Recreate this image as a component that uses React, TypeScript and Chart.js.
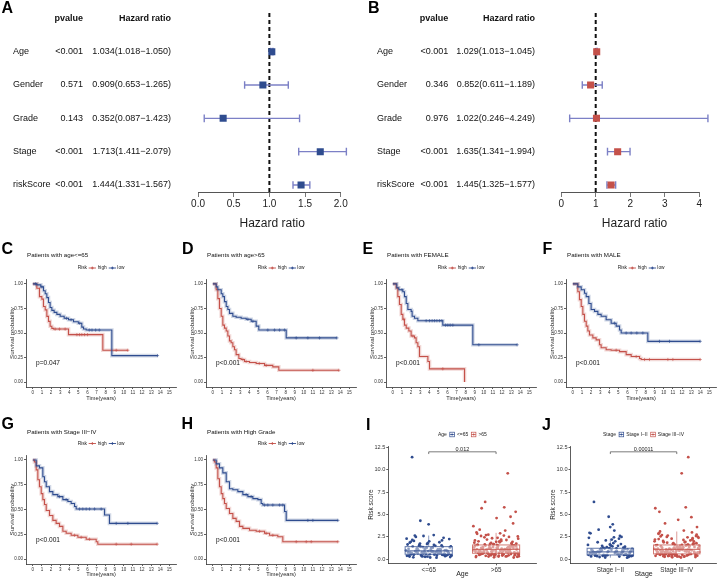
import React, { useEffect, useRef } from "react";
import { Chart, registerables } from "chart.js";

Chart.register(...registerables);

const FONT = '"Liberation Sans", Arial, Helvetica, sans-serif';
const INK = "#1e1e1e";
const AXIS = "#333333";
const BLUE = "#2F4C8F";
const RED = "#C4514A";
const LAVENDER = "#7C80C6";
const BLUE_BAND = "rgba(47,76,143,0.22)";
const RED_BAND = "rgba(196,81,74,0.22)";

// ---------------- A / B : forest plots ----------------
const forestVars = ["Age", "Gender", "Grade", "Stage", "riskScore"];
const uniP = ["<0.001", "0.571", "0.143", "<0.001", "<0.001"];
const uniHR = [1.034, 0.909, 0.352, 1.713, 1.444];
const uniLow = [1.018, 0.653, 0.087, 1.411, 1.331];
const uniHigh = [1.05, 1.265, 1.423, 2.079, 1.567];
const uniTicks = [0, 0.5, 1, 1.5, 2];

const multiP = ["<0.001", "0.346", "0.976", "<0.001", "<0.001"];
const multiHR = [1.029, 0.852, 1.022, 1.635, 1.445];
const multiLow = [1.013, 0.611, 0.246, 1.341, 1.325];
const multiHigh = [1.045, 1.189, 4.249, 1.994, 1.577];
const multiTicks = [0, 1, 2, 3, 4];

// ---------------- C-H : Kaplan-Meier ----------------
const kmXTicks = [0, 1, 2, 3, 4, 5, 6, 7, 8, 9, 10, 11, 12, 13, 14, 15];
const kmYTicks = [0, 0.25, 0.5, 0.75, 1];

const cHighT = [0, 0.44, 0.73, 0.99, 1.17, 1.36, 1.54, 1.72, 1.9, 2.09, 2.27, 3.92, 7.69, 10.44];
const cHighS = [1, 0.956, 0.87, 0.845, 0.77, 0.736, 0.669, 0.618, 0.568, 0.547, 0.54, 0.483, 0.324, 0.324];
const cHighC = [2.45, 2.93, 3.55, 4.84, 5.13, 5.38, 5.68, 6.01, 9.16, 10.44];
const cLowT = [0, 0.44, 0.88, 1.17, 1.36, 1.54, 1.72, 1.9, 2.09, 2.34, 2.64, 3.0, 3.44, 3.92, 4.47, 5.0, 5.38, 5.57, 5.86, 8.68, 13.7];
const cLowS = [1, 0.99, 0.97, 0.93, 0.9, 0.86, 0.81, 0.76, 0.73, 0.71, 0.69, 0.67, 0.65, 0.635, 0.615, 0.6, 0.56, 0.54, 0.53, 0.27, 0.27];
const cLowC = [0.3, 1.0, 3.7, 4.2, 5.15, 6.2, 6.5, 6.9, 7.3, 13.7];

const dHighT = [0, 0.37, 0.55, 0.73, 0.92, 1.1, 1.28, 1.47, 1.65, 1.83, 2.01, 2.2, 2.38, 2.56, 2.86, 3.11, 3.48, 4.03, 4.76, 5.68, 6.59, 7.25, 13.85];
const dHighS = [1, 0.94, 0.85, 0.75, 0.67, 0.58, 0.55, 0.52, 0.47, 0.42, 0.4, 0.36, 0.33, 0.28, 0.24, 0.23, 0.21, 0.2, 0.19, 0.17, 0.155, 0.12, 0.12];
const dHighC = [3.3, 3.66, 5.1, 5.86, 10.99, 13.85];
const dLowT = [0, 0.37, 0.55, 0.92, 1.1, 1.28, 1.47, 1.65, 1.83, 2.2, 2.56, 3.11, 3.66, 4.21, 4.76, 5.05, 8.06, 13.63];
const dLowS = [1, 0.97, 0.94, 0.9, 0.87, 0.82, 0.77, 0.74, 0.7, 0.67, 0.66, 0.65, 0.64, 0.62, 0.57, 0.53, 0.45, 0.45];
const dLowC = [3.85, 4.4, 6.04, 6.78, 7.33, 7.88, 9.16, 10.44, 11.72, 13.63];

const eHighT = [0, 0.37, 0.55, 0.73, 0.92, 1.1, 1.28, 1.47, 1.76, 2.01, 2.38, 2.56, 2.75, 2.93, 3.85, 4.03, 7.88];
const eHighS = [1, 0.96, 0.87, 0.79, 0.69, 0.64, 0.58, 0.55, 0.52, 0.47, 0.45, 0.4, 0.36, 0.26, 0.21, 0.135, 0];
const eHighC = [1.2, 2.2, 5.49];
const eLowT = [0, 0.44, 0.66, 1.1, 1.28, 1.47, 1.65, 2.01, 2.12, 2.38, 2.75, 5.49, 8.79, 13.66];
const eLowS = [1, 0.96, 0.94, 0.92, 0.87, 0.8, 0.74, 0.72, 0.67, 0.65, 0.625, 0.58, 0.38, 0.38];
const eLowC = [1.0, 3.66, 4.03, 4.32, 4.58, 4.84, 5.13, 5.38, 5.79, 6.04, 6.3, 6.59, 9.45, 13.66];

const fHighT = [0, 0.55, 0.73, 0.92, 1.1, 1.28, 1.47, 1.65, 1.83, 2.2, 2.56, 2.93, 3.11, 3.66, 4.21, 5.13, 5.86, 6.41, 7.33, 7.51, 13.99];
const fHighS = [1, 0.92, 0.84, 0.77, 0.69, 0.62, 0.57, 0.52, 0.48, 0.45, 0.43, 0.38, 0.35, 0.33, 0.325, 0.31, 0.28, 0.26, 0.24, 0.23, 0.23];
const fHighC = [4.76, 6.96, 7.88, 8.42, 10.44, 10.99, 13.99];
const fLowT = [0, 0.55, 0.92, 1.28, 1.47, 1.76, 2.01, 2.38, 2.75, 3.11, 3.66, 4.21, 4.76, 5.13, 5.31, 8.24, 13.99];
const fLowS = [1, 0.97, 0.94, 0.905, 0.87, 0.8, 0.74, 0.72, 0.69, 0.67, 0.635, 0.6, 0.57, 0.53, 0.5, 0.415, 0.415];
const fLowC = [4.58, 5.86, 6.41, 7.03, 7.69, 9.52, 10.62, 13.99];

const gHighT = [0, 0.18, 0.37, 0.55, 0.73, 0.92, 1.1, 1.28, 1.47, 1.83, 2.2, 2.56, 2.93, 3.3, 3.66, 4.21, 4.95, 5.86, 6.96, 7.14, 13.66];
const gHighS = [1, 0.98, 0.9, 0.8, 0.73, 0.66, 0.6, 0.55, 0.49, 0.44, 0.39, 0.36, 0.33, 0.28, 0.26, 0.24, 0.22, 0.2, 0.175, 0.15, 0.15];
const gHighC = [4.58, 5.31, 6.23, 9.16, 10.81, 13.66];
const gLowT = [0, 0.37, 0.73, 1.1, 1.28, 1.47, 1.83, 2.2, 2.75, 3.3, 3.85, 4.21, 4.58, 4.76, 7.88, 8.42, 13.66];
const gLowS = [1, 0.94, 0.92, 0.83, 0.78, 0.73, 0.68, 0.65, 0.63, 0.6, 0.58, 0.56, 0.53, 0.505, 0.445, 0.36, 0.36];
const gLowC = [2.93, 3.66, 5.13, 5.49, 5.86, 6.23, 6.78, 7.51, 9.16, 10.44, 13.66];

const hHighT = [0, 0.18, 0.37, 0.55, 0.73, 0.92, 1.1, 1.28, 1.47, 1.83, 2.2, 2.56, 2.93, 3.3, 4.03, 4.76, 5.68, 6.23, 7.14, 7.69, 13.74];
const hHighS = [1, 0.98, 0.92, 0.81, 0.73, 0.66, 0.61, 0.56, 0.51, 0.46, 0.41, 0.38, 0.33, 0.31, 0.29, 0.28, 0.26, 0.24, 0.225, 0.175, 0.175];
const hHighC = [5.13, 5.86, 6.59, 9.16, 10.26, 10.81, 13.74];
const hLowT = [0, 0.37, 0.73, 1.1, 1.47, 1.83, 2.2, 2.75, 3.3, 3.85, 4.4, 4.95, 5.31, 5.49, 7.88, 8.06, 13.74];
const hLowS = [1, 0.96, 0.92, 0.87, 0.78, 0.71, 0.7, 0.68, 0.65, 0.63, 0.61, 0.6, 0.56, 0.545, 0.48, 0.39, 0.39];
const hLowC = [3.66, 4.21, 5.68, 6.04, 6.59, 7.33, 7.69, 10.44, 10.99, 13.74];

// ---------------- I / J : risk score by group ----------------
const riskTicks = [0, 2.5, 5, 7.5, 10, 12.5];

const ageGroups = ["<=65", ">65"];
const ageYoung = [11.4, 0.82, 1.35, 0.45, 2.7, 0.95, 0.6, 1.7, 0.3, 1.1, 4.3, 0.72, 1.25, 0.5, 2.1, 0.88, 0.38, 1.5, 0.66, 1.02, 3.9, 0.55, 1.9, 0.78, 0.25, 1.3, 0.92, 2.4, 0.62, 1.15, 0.42, 1.6, 0.85, 0.2, 1.42, 0.7, 2.6, 0.98, 0.52, 1.2, 0.35, 1.8, 0.75, 1.05, 0.48, 2.25, 0.9, 0.58, 1.38, 0.28, 1.65, 0.8, 1.0, 0.44, 2.0, 0.68, 1.12, 0.32, 1.45, 0.86, 2.5, 0.6, 1.28, 0.4, 0.96, 1.75, 0.54, 1.08, 0.22, 1.55, 0.74, 2.3, 0.64, 1.18, 0.46, 0.9, 1.95, 0.7, 0.36, 1.32, 0.84, 2.65, 0.5, 1.22, 0.76, 0.18, 1.48, 0.94, 0.57, 2.15, 1.1, 0.66, 0.4, 1.6, 0.8, 1.0, 0.3, 1.85, 0.72, 1.4, 0.62, 0.88, 2.05, 0.5, 1.15];
const ageOld = [0.95, 9.6, 1.3, 0.55, 2.2, 0.8, 1.6, 0.4, 1.1, 3.2, 0.7, 1.45, 0.3, 2.6, 1.0, 0.62, 1.85, 0.48, 6.4, 1.25, 0.85, 2.0, 0.35, 1.5, 0.75, 2.9, 1.15, 0.58, 1.7, 0.25, 5.8, 1.05, 0.68, 2.4, 0.9, 1.35, 0.45, 3.7, 1.2, 0.8, 1.95, 0.52, 1.6, 0.32, 2.75, 1.08, 0.72, 5.7, 1.4, 0.6, 2.1, 0.95, 0.38, 1.55, 4.6, 0.82, 1.28, 0.5, 2.3, 1.0, 0.66, 1.8, 0.22, 3.0, 1.12, 0.78, 5.3, 1.48, 0.56, 2.5, 0.88, 1.32, 0.42, 1.65, 4.0, 0.98, 0.7, 2.15, 1.22, 0.28, 1.9, 0.62, 4.75, 1.38, 0.85, 2.65, 1.05, 0.46, 1.58, 3.3, 0.76, 1.18, 0.34, 2.05, 0.92, 1.42, 0.54, 2.85, 1.1, 0.64, 1.75, 0.4, 1.28, 0.86, 2.35, 1.02, 0.58, 1.52, 0.2, 1.95, 0.8, 1.15, 0.5, 2.55, 0.96, 1.35, 0.7, 1.68, 0.36, 1.08, 2.2, 0.6, 1.25, 0.9, 0.44, 1.82, 1.0, 0.74, 2.45, 1.4, 0.52, 1.6, 0.84, 0.3, 1.2, 2.0, 0.66, 1.12, 0.94, 1.5, 0.56, 2.7, 0.78, 1.3, 0.48, 1.05, 1.72, 0.62];
const ageQ1 = [0.56, 0.67];
const ageMed = [0.93, 1.1];
const ageQ3 = [1.41, 1.6];
const ageWLo = [0.15, 0.2];
const ageWHi = [2.65, 2.95];
const ageP = "0.012";

const stageGroups = ["Stage I\u2212II", "Stage III\u2212IV"];
const stageEarly = [6.4, 0.7, 1.2, 0.4, 2.0, 0.85, 0.55, 4.75, 1.05, 0.3, 1.5, 0.78, 3.9, 0.62, 1.3, 0.45, 2.4, 0.92, 0.25, 1.1, 3.6, 0.68, 1.7, 0.5, 0.98, 3.2, 0.35, 1.4, 0.82, 2.9, 0.58, 1.18, 0.42, 2.2, 0.75, 1.0, 0.2, 1.6, 0.88, 3.3, 0.52, 1.25, 0.65, 2.6, 0.38, 0.95, 1.8, 0.72, 0.48, 1.35, 2.95, 0.6, 1.08, 0.28, 1.55, 0.8, 2.5, 0.44, 1.15, 0.7, 1.9, 0.55, 0.9, 0.32, 2.3, 1.02, 0.64, 1.45, 0.4, 0.86, 2.1, 0.5, 1.22, 0.76, 0.18, 1.65, 0.96, 0.6, 1.3, 0.35, 2.45, 0.8, 1.12, 0.46, 0.68, 1.5, 0.9, 0.26, 1.05, 0.74];
const stageLate = [1.0, 11.4, 0.6, 1.5, 9.6, 0.8, 2.2, 0.4, 1.2, 5.8, 0.7, 1.8, 0.3, 2.7, 1.05, 0.55, 5.7, 1.35, 0.9, 2.0, 0.45, 5.3, 1.6, 0.75, 2.5, 1.1, 0.35, 4.7, 1.3, 0.62, 1.9, 0.95, 0.25, 4.4, 1.45, 0.82, 2.3, 1.15, 0.5, 4.0, 1.7, 0.68, 2.85, 1.0, 0.4, 3.6, 1.25, 0.58, 2.1, 0.88, 1.55, 3.2, 0.72, 1.38, 0.3, 3.1, 1.08, 0.64, 2.4, 1.2, 0.48, 3.0, 1.62, 0.85, 1.95, 0.36, 2.6, 1.02, 0.7, 1.48, 0.22, 2.2, 1.28, 0.56, 1.78, 0.92, 2.9, 0.42, 1.12, 0.78, 1.4, 2.05, 0.6, 1.22, 0.98, 0.32, 1.85, 0.66, 1.32, 2.55, 0.5, 1.06, 0.8, 1.6, 0.28, 2.35, 1.18, 0.74, 1.52, 0.44, 2.75, 0.96, 1.3, 0.62, 1.72, 0.38, 2.15, 1.1, 0.84, 1.42, 0.54, 2.45, 0.7, 1.25, 0.2, 1.9, 1.0, 0.58, 1.58, 0.9, 2.65, 0.46, 1.15, 0.76, 1.36, 0.34, 2.0, 1.04, 0.66, 1.68, 0.52, 2.25, 0.86, 1.2, 0.4, 1.5, 0.94, 0.6, 1.8, 1.08, 0.3, 2.5, 0.72, 1.34, 0.5, 1.62];
const stageQ1 = [0.48, 0.6];
const stageMed = [0.82, 1.1];
const stageQ3 = [1.23, 1.6];
const stageWLo = [0.18, 0.2];
const stageWHi = [2.3, 3.1];
const stageP = "0.00011";

// ---------------- helpers ----------------
function survAt(t: number, ts: number[], ss: number[]) {
  let s = ss[0];
  for (let i = 0; i < ts.length; i++) if (ts[i] <= t) s = ss[i];
  return s;
}

function axis(o: any) {
  const {
    min, max, ticks, fmt, size, fit, horizontal, title, titleSize, titlePad = 0,
    tickLen = 2, pad = 1, border = true, color = AXIS, labelColor = AXIS, reverse = false,
  } = o;
  return {
    type: "linear",
    min, max, reverse,
    afterBuildTicks: (s: any) => { s.ticks = ticks.map((v: number) => ({ value: v })); },
    afterFit: (s: any) => { if (fit != null) { if (horizontal) s.height = fit; else s.width = fit; } },
    ticks: {
      font: { family: FONT, size }, color: labelColor, padding: pad, autoSkip: false,
      maxRotation: 0, minRotation: 0, callback: (v: any) => fmt(v),
    },
    grid: { drawOnChartArea: false, drawTicks: true, tickLength: tickLen, color, tickWidth: 0.8, lineWidth: 0.8 },
    border: { display: border, color, width: 0.8 },
    title: title
      ? { display: true, text: title, font: { family: FONT, size: titleSize }, color: INK,
          padding: horizontal ? { top: 0, bottom: titlePad } : { top: titlePad, bottom: 0 } }
      : { display: false },
  };
}

const baseOpts = {
  animation: false,
  responsive: false,
  events: [],
  plugins: { legend: { display: false }, tooltip: { enabled: false } },
};

// ---------- forest ----------
function forestBuild(f: any) {
  const hrText = f.hr.map((v: number, i: number) => `${v.toFixed(3)}(${f.low[i].toFixed(3)}\u2212${f.high[i].toFixed(3)})`);
  const datasets: any[] = [
    {
      data: f.hr.map((v: number, i: number) => ({ x: v, y: i + 1 })),
      pointStyle: "rect", pointRadius: 5, pointHoverRadius: 5,
      backgroundColor: f.sq, pointBackgroundColor: f.sq, pointBorderWidth: 0, borderWidth: 0, order: 0,
    },
    ...f.low.map((lo: number, i: number) => ({
      data: [{ x: lo, y: i + 1 }, { x: f.high[i], y: i + 1 }],
      showLine: true, borderColor: LAVENDER, borderWidth: 1.4,
      pointStyle: "line", pointRotation: 90, pointRadius: 3.8, pointHoverRadius: 3.8,
      pointBorderWidth: 1.4, pointBorderColor: LAVENDER, order: 1,
    })),
    {
      data: [{ x: 1, y: f.yMin }, { x: 1, y: f.yMax }],
      showLine: true, borderColor: "#111", borderWidth: 2, borderDash: [4, 3], pointRadius: 0, order: 2,
    },
  ];
  const deco = {
    id: "forestDeco",
    afterDraw(chart: any) {
      const { ctx, scales } = chart;
      const y = scales.y, x = scales.x;
      ctx.save();
      ctx.fillStyle = "#111";
      ctx.textBaseline = "middle";
      ctx.font = `bold 9px ${FONT}`;
      ctx.textAlign = "right";
      const hy = y.getPixelForValue(0);
      ctx.fillText("pvalue", f.pX, hy);
      ctx.fillText("Hazard ratio", f.hrX, hy);
      ctx.font = `9px ${FONT}`;
      forestVars.forEach((name, i) => {
        const py = y.getPixelForValue(i + 1);
        ctx.textAlign = "left";
        ctx.fillText(name, f.labX, py);
        ctx.textAlign = "right";
        ctx.fillText(f.p[i], f.pX, py);
        ctx.fillText(hrText[i], f.hrX, py);
      });
      // axis line between first and last tick (base-R style)
      const t = x.ticks;
      const ly = Math.round(chart.chartArea.bottom) + 0.5;
      ctx.strokeStyle = "#555";
      ctx.lineWidth = 1;
      ctx.beginPath();
      ctx.moveTo(x.getPixelForValue(t[0].value), ly);
      ctx.lineTo(x.getPixelForValue(t[t.length - 1].value), ly);
      ctx.stroke();
      ctx.restore();
    },
  };
  return {
    type: "scatter",
    data: { datasets },
    options: {
      ...baseOpts,
      layout: { padding: f.padding },
      scales: {
        x: {
          ...axis({
            min: f.xMin, max: f.xMax, ticks: f.ticks, fmt: f.fmt, size: 10, fit: 40, horizontal: true,
            title: "Hazard ratio", titleSize: 12, titlePad: 1, tickLen: 5, pad: 1, border: false,
            color: "#555", labelColor: "#222",
          }),
        },
        y: { type: "linear", display: false, min: f.yMin, max: f.yMax, reverse: true },
      },
    },
    plugins: [deco],
  };
}

// ---------- Kaplan-Meier ----------
const KM_ROWS: any = {
  1: { top: 240, height: 165, padTop: 39, xh: 18, titlePB: 3.6, titleY: 15, legendY: 28 },
  2: { top: 415, height: 165, padTop: 40, xh: 16, titlePB: 2.6, titleY: 17.3, legendY: 28.5 },
};

const kmPanels = [
  { letter: "C", left: 0, row: 1, title: "Patients with age<=65", pval: "p=0.047", hT: cHighT, hS: cHighS, hC: cHighC, lT: cLowT, lS: cLowS, lC: cLowC },
  { letter: "D", left: 180, row: 1, title: "Patients with age>65", pval: "p<0.001", hT: dHighT, hS: dHighS, hC: dHighC, lT: dLowT, lS: dLowS, lC: dLowC },
  { letter: "E", left: 360, row: 1, title: "Patients with FEMALE", pval: "p<0.001", hT: eHighT, hS: eHighS, hC: eHighC, lT: eLowT, lS: eLowS, lC: eLowC },
  { letter: "F", left: 540, row: 1, title: "Patients with MALE", pval: "p<0.001", hT: fHighT, hS: fHighS, hC: fHighC, lT: fLowT, lS: fLowS, lC: fLowC },
  { letter: "G", left: 0, row: 2, title: "Patients with Stage III\u2212IV", pval: "p<0.001", hT: gHighT, hS: gHighS, hC: gHighC, lT: gLowT, lS: gLowS, lC: gLowC },
  { letter: "H", left: 180, row: 2, title: "Patients with High Grade", pval: "p<0.001", hT: hHighT, hS: hHighS, hC: hHighC, lT: hLowT, lS: hLowS, lC: hLowC },
];

function kmBuild(p: any) {
  const R = KM_ROWS[p.row];
  const line = (ts: number[], ss: number[], color: string, w: number, order: number) => ({
    data: ts.map((t, i) => ({ x: t, y: ss[i] })),
    showLine: true, stepped: true, borderColor: color, borderWidth: w,
    pointRadius: 0, pointHoverRadius: 0, fill: false, order,
  });
  const cens = (cs: number[], ts: number[], ss: number[], color: string, order: number) => ({
    data: cs.map((t) => ({ x: t, y: survAt(t, ts, ss) })),
    showLine: false, pointStyle: "cross", pointRadius: 1.6, pointHoverRadius: 1.6,
    pointBorderWidth: 0.6, pointBorderColor: color, borderColor: color, order,
  });
  const deco = {
    id: "kmDeco",
    afterDraw(chart: any) {
      const { ctx, scales, chartArea } = chart;
      const x = scales.x, y = scales.y;
      ctx.save();
      // title
      ctx.fillStyle = "#111";
      ctx.textBaseline = "middle";
      ctx.textAlign = "left";
      ctx.font = `6.2px ${FONT}`;
      ctx.fillText(p.title, 27, R.titleY);
      // legend
      ctx.font = `4.8px ${FONT}`;
      const wRisk = ctx.measureText("Risk").width;
      const wHigh = ctx.measureText("high").width;
      const wLow = ctx.measureText("low").width;
      const key = 7.3;
      const total = wRisk + 1.7 + key + 1.7 + wHigh + 2 + key + 1.3 + wLow;
      let cx = (chartArea.left + chartArea.right) / 2 - total / 2;
      const ly = R.legendY;
      ctx.fillStyle = "#222";
      ctx.fillText("Risk", cx, ly);
      cx += wRisk + 1.7;
      const drawKey = (x0: number, c: string) => {
        ctx.strokeStyle = c;
        ctx.lineWidth = 0.9;
        ctx.beginPath();
        ctx.moveTo(x0, ly); ctx.lineTo(x0 + key, ly);
        ctx.moveTo(x0 + key / 2 - 1.4, ly); ctx.lineTo(x0 + key / 2 + 1.4, ly);
        ctx.moveTo(x0 + key / 2, ly - 1.4); ctx.lineTo(x0 + key / 2, ly + 1.4);
        ctx.stroke();
      };
      drawKey(cx, RED);
      cx += key + 1.7;
      ctx.fillText("high", cx, ly);
      cx += wHigh + 2;
      drawKey(cx, BLUE);
      cx += key + 1.3;
      ctx.fillText("low", cx, ly);
      // p-value
      ctx.fillStyle = "#111";
      ctx.font = `6.6px ${FONT}`;
      ctx.fillText(p.pval, x.getPixelForValue(0.35), y.getPixelForValue(0.19));
      ctx.restore();
    },
  };
  return {
    type: "scatter",
    data: {
      datasets: [
        cens(p.lC, p.lT, p.lS, BLUE, 0),
        cens(p.hC, p.hT, p.hS, RED, 1),
        line(p.lT, p.lS, BLUE, 1.1, 2),
        line(p.hT, p.hS, RED, 1.1, 3),
        line(p.lT, p.lS, BLUE_BAND, 3.6, 4),
        line(p.hT, p.hS, RED_BAND, 3.6, 5),
      ],
    },
    options: {
      ...baseOpts,
      layout: { padding: { left: 0, top: R.padTop, right: 3.8, bottom: 0 } },
      scales: {
        x: axis({
          min: -0.75, max: 15.75, ticks: kmXTicks, fmt: (v: number) => String(v), size: 4.5,
          fit: R.xh, horizontal: true, title: "Time(years)", titleSize: 5.6, titlePad: R.titlePB,
        }),
        y: axis({
          min: -0.05, max: 1.05, ticks: kmYTicks, fmt: (v: number) => Number(v).toFixed(2), size: 4.5,
          fit: 26, horizontal: false, title: "Survival probability", titleSize: 6.2, titlePad: 8.3,
        }),
      },
    },
    plugins: [deco],
  };
}

// ---------- I / J ----------
const boxPanels = [
  { letter: "I", left: 360, width: 180, yFit: 28.3, padRight: 3.5, legendTitle: "Age", xTitle: "Age", titlePad: 7.8,
    groups: ageGroups, values: [ageYoung, ageOld], q1: ageQ1, med: ageMed, q3: ageQ3, wlo: ageWLo, whi: ageWHi, p: ageP },
  { letter: "J", left: 540, width: 179, yFit: 30.5, padRight: 2.4, legendTitle: "Stage", xTitle: "Stage", titlePad: 9.4,
    groups: stageGroups, values: [stageEarly, stageLate], q1: stageQ1, med: stageMed, q3: stageQ3, wlo: stageWLo, whi: stageWHi, p: stageP },
];
const BOX_TOP = 425;
const BOX_H = 155;

function boxBuild(b: any) {
  const colors = [BLUE, RED];
  const jit = (i: number) => ((((i * 0.6180339887) + 0.137) % 1) - 0.5) * 0.68;
  const datasets = b.values.map((vals: number[], g: number) => ({
    data: vals.map((v, i) => ({ x: g + jit(i), y: v })),
    showLine: false, pointStyle: "circle", pointRadius: 1.4, pointHoverRadius: 1.4,
    backgroundColor: colors[g], pointBackgroundColor: colors[g], pointBorderWidth: 0, borderWidth: 0, order: g,
  }));
  const deco = {
    id: "boxDeco",
    afterDatasetsDraw(chart: any) {
      const { ctx, scales, chartArea } = chart;
      const x = scales.x, y = scales.y;
      ctx.save();
      b.values.forEach((_: any, g: number) => {
        const c = colors[g];
        const xl = x.getPixelForValue(g - 0.35), xr = x.getPixelForValue(g + 0.35), xc = x.getPixelForValue(g);
        const yq1 = y.getPixelForValue(b.q1[g]), yq3 = y.getPixelForValue(b.q3[g]);
        const ym = y.getPixelForValue(b.med[g]);
        const ylo = y.getPixelForValue(b.wlo[g]), yhi = y.getPixelForValue(b.whi[g]);
        ctx.strokeStyle = c;
        ctx.globalAlpha = 0.7;
        ctx.lineWidth = 0.8;
        ctx.beginPath();
        ctx.moveTo(xc, yq3); ctx.lineTo(xc, yhi);
        ctx.moveTo(xc, yq1); ctx.lineTo(xc, ylo);
        ctx.stroke();
        ctx.globalAlpha = 1;
        ctx.fillStyle = "rgba(255,255,255,0.45)";
        ctx.fillRect(xl, yq3, xr - xl, yq1 - yq3);
        ctx.globalAlpha = 0.75;
        ctx.lineWidth = 1;
        ctx.strokeRect(xl, yq3, xr - xl, yq1 - yq3);
        ctx.lineWidth = 1.3;
        ctx.beginPath();
        ctx.moveTo(xl, ym); ctx.lineTo(xr, ym);
        ctx.stroke();
        ctx.globalAlpha = 1;
      });
      // bracket with p-value
      const by = y.getPixelForValue(12.0), be = y.getPixelForValue(11.75);
      const bx0 = x.getPixelForValue(0), bx1 = x.getPixelForValue(1);
      ctx.strokeStyle = "#444";
      ctx.lineWidth = 0.7;
      ctx.beginPath();
      ctx.moveTo(bx0, be); ctx.lineTo(bx0, by); ctx.lineTo(bx1, by); ctx.lineTo(bx1, be);
      ctx.stroke();
      ctx.fillStyle = "#222";
      ctx.font = `5.5px ${FONT}`;
      ctx.textAlign = "center";
      ctx.textBaseline = "middle";
      ctx.fillText(b.p, (bx0 + bx1) / 2, by - 2.6);
      // legend
      ctx.font = `5px ${FONT}`;
      ctx.textAlign = "left";
      const ly = 9.5;
      const ks = 4.6;
      const wT = ctx.measureText(b.legendTitle).width;
      const w0 = ctx.measureText(b.groups[0]).width;
      const w1 = ctx.measureText(b.groups[1]).width;
      const total = wT + 3 + ks + 2.5 + w0 + 3 + ks + 2.5 + w1;
      let cx = (chartArea.left + chartArea.right) / 2 - total / 2;
      ctx.fillStyle = "#222";
      ctx.fillText(b.legendTitle, cx, ly);
      cx += wT + 3;
      const drawKey = (x0: number, c: string) => {
        ctx.strokeStyle = c;
        ctx.lineWidth = 0.7;
        ctx.strokeRect(x0, ly - ks / 2, ks, ks);
        ctx.beginPath();
        ctx.moveTo(x0, ly); ctx.lineTo(x0 + ks, ly);
        ctx.stroke();
        ctx.fillStyle = c;
        ctx.beginPath();
        ctx.arc(x0 + ks / 2, ly, 0.9, 0, Math.PI * 2);
        ctx.fill();
      };
      drawKey(cx, BLUE);
      cx += ks + 2.5;
      ctx.fillStyle = "#222";
      ctx.fillText(b.groups[0], cx, ly);
      cx += w0 + 3;
      drawKey(cx, RED);
      cx += ks + 2.5;
      ctx.fillStyle = "#222";
      ctx.fillText(b.groups[1], cx, ly);
      ctx.restore();
    },
  };
  return {
    type: "scatter",
    data: { datasets },
    options: {
      ...baseOpts,
      layout: { padding: { left: 0, top: 21, right: b.padRight, bottom: 0 } },
      scales: {
        x: axis({
          min: -0.6, max: 1.6, ticks: [0, 1], fmt: (v: number) => b.groups[Math.round(v)] ?? "", size: 6.3,
          fit: 16.7, horizontal: true, title: b.xTitle, titleSize: 7, titlePad: 1.5,
        }),
        y: axis({
          min: -0.45, max: 12.65, ticks: riskTicks, fmt: (v: number) => Number(v).toFixed(1), size: 5.6,
          fit: b.yFit, horizontal: false, title: "Risk score", titleSize: 6.5, titlePad: b.titlePad,
        }),
      },
    },
    plugins: [deco],
  };
}

// ---------------- components ----------------
function ChartCanvas({ left, top, width, height, build }: any) {
  const ref = useRef<HTMLCanvasElement | null>(null);
  useEffect(() => {
    if (!ref.current) return;
    const chart = new Chart(ref.current, build());
    return () => chart.destroy();
  }, []);
  return (
    <canvas
      ref={ref}
      width={width}
      height={height}
      style={{ position: "absolute", left, top, width, height, display: "block" }}
    />
  );
}

function Letter({ x, y, children }: any) {
  return (
    <div
      style={{
        position: "absolute", left: x, top: y - 8, fontSize: 16, lineHeight: "16px",
        fontFamily: FONT, fontWeight: 700, color: "#000", whiteSpace: "nowrap",
      }}
    >
      {children}
    </div>
  );
}

const forestA = {
  hr: uniHR, low: uniLow, high: uniHigh, p: uniP, sq: BLUE, ticks: uniTicks,
  fmt: (v: number) => Number(v).toFixed(1), xMin: -0.083, xMax: 2.162,
  yMin: -0.16, yMax: 5.21, labX: 13, pX: 83, hrX: 171,
  padding: { left: 192.1, right: 7.7, top: 13, bottom: 0 },
};
const forestB = {
  hr: multiHR, low: multiLow, high: multiHigh, p: multiP, sq: RED, ticks: multiTicks,
  fmt: (v: number) => String(Math.round(v)), xMin: -0.17, xMax: 4.419,
  yMin: -0.16, yMax: 5.21, labX: 17, pX: 88.3, hrX: 175,
  padding: { left: 195.3, right: 1.9, top: 13, bottom: 0 },
};

export default function App() {
  return (
    <div
      style={{
        position: "absolute", left: 0, top: 0, width: 719, height: 580,
        background: "#fff", overflow: "hidden",
      }}
    >
      <ChartCanvas left={0} top={0} width={360} height={232} build={() => forestBuild(forestA)} />
      <ChartCanvas left={360} top={0} width={359} height={232} build={() => forestBuild(forestB)} />
      {kmPanels.map((p) => (
        <ChartCanvas
          key={p.letter}
          left={p.left}
          top={KM_ROWS[p.row].top}
          width={180}
          height={KM_ROWS[p.row].height}
          build={() => kmBuild(p)}
        />
      ))}
      {boxPanels.map((b) => (
        <ChartCanvas key={b.letter} left={b.left} top={BOX_TOP} width={b.width} height={BOX_H} build={() => boxBuild(b)} />
      ))}
      <Letter x={1.5} y={7.5}>A</Letter>
      <Letter x={368} y={7.5}>B</Letter>
      <Letter x={1.5} y={249}>C</Letter>
      <Letter x={182} y={249}>D</Letter>
      <Letter x={362.5} y={249}>E</Letter>
      <Letter x={542.5} y={248.5}>F</Letter>
      <Letter x={1.5} y={424}>G</Letter>
      <Letter x={181.5} y={424}>H</Letter>
      <Letter x={366} y={425}>I</Letter>
      <Letter x={542} y={425}>J</Letter>
    </div>
  );
}
